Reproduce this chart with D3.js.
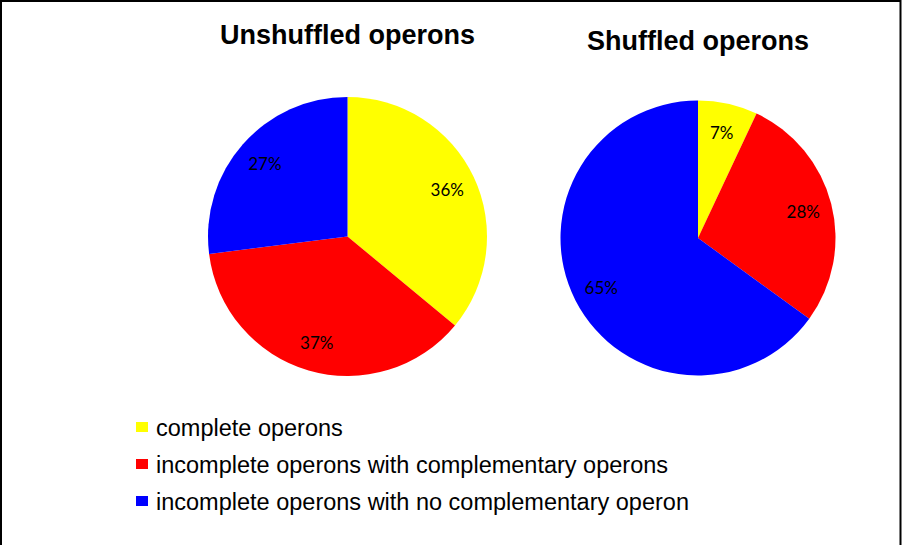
<!DOCTYPE html>
<html>
<head>
<meta charset="utf-8">
<script src="https://cdn.jsdelivr.net/npm/d3@7"></script>
<style>
html,body{margin:0;padding:0;background:#fff;}
svg{display:block;}
</style>
</head>
<body>
<svg id="chart" width="902" height="545"></svg>
<script>
const categories = ["complete operons", "incomplete operons with complementary operons", "incomplete operons with no complementary operon"];
const colors = ["#ffff00", "#ff0000", "#0000ff"];
const chartTitles = ["Unshuffled operons", "Shuffled operons"];
const unshuffledValues = [36, 37, 27];
const shuffledValues = [7, 28, 65];

const svg = d3.select("#chart");
svg.append("rect").attr("width", 902).attr("height", 545).attr("fill", "#fff");

// frame (top, left, right)
svg.append("path")
  .attr("d", "M1,545 L1,1 L900.5,1 L900.5,545")
  .attr("fill", "none").attr("stroke", "#000").attr("stroke-width", 2);

const pies = [
  {title: chartTitles[0], values: unshuffledValues, cx: 347.5, cy: 236.5, r: 139.5, ty: 44},
  {title: chartTitles[1], values: shuffledValues, cx: 698, cy: 238, r: 137.5, ty: 50}
];

const pie = d3.pie().sort(null).value(d => d);
const color = d3.scaleOrdinal().domain(d3.range(categories.length)).range(colors);

pies.forEach(p => {
  const g = svg.append("g").attr("transform", `translate(${p.cx},${p.cy})`);
  const arc = d3.arc().innerRadius(0).outerRadius(p.r);
  const labelArc = d3.arc().innerRadius(p.r * 0.79).outerRadius(p.r * 0.79);
  const arcs = pie(p.values);
  g.selectAll("path.slice").data(arcs).join("path")
    .attr("class", "slice")
    .attr("d", arc)
    .attr("fill", (d, i) => color(i));
  g.selectAll("text.lbl").data(arcs).join("text")
    .attr("class", "lbl")
    .attr("transform", d => `translate(${labelArc.centroid(d)})`)
    .attr("text-anchor", "middle")
    .attr("dy", "0.4em")
    .attr("font-family", "Lato, 'Open Sans', sans-serif")
    .attr("font-size", 17)
    .attr("fill", "#000")
    .text(d => d.data + "%");
  svg.append("text")
    .attr("x", p.cx).attr("y", p.ty)
    .attr("text-anchor", "middle")
    .attr("font-family", "'Liberation Sans', Arial, sans-serif")
    .attr("font-weight", "bold")
    .attr("font-size", 27)
    .attr("fill", "#000")
    .text(p.title);
});

// legend
const legend = svg.append("g");
const rowY = d3.scalePoint().domain(d3.range(categories.length)).range([436, 510]);
categories.forEach((c, i) => {
  legend.append("rect")
    .attr("x", 136).attr("y", rowY(i) - 14)
    .attr("width", 12).attr("height", 10)
    .attr("fill", colors[i]);
  legend.append("text")
    .attr("x", 156).attr("y", rowY(i))
    .attr("font-family", "'Liberation Sans', Arial, sans-serif")
    .attr("font-size", 23.5)
    .attr("fill", "#000")
    .text(c);
});
</script>
</body>
</html>
